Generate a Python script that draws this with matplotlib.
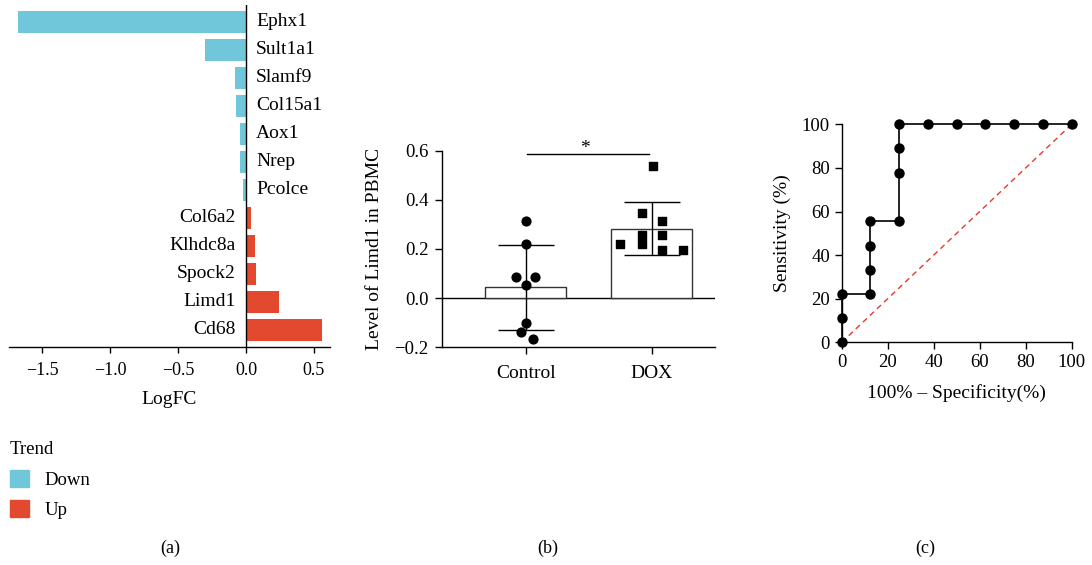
import matplotlib.pyplot as plt
from matplotlib.patches import Patch
import numpy as np

plt.rcParams['font.family'] = ['Liberation Serif', 'DejaVu Serif']
plt.rcParams['axes.linewidth'] = 1.0

# panel (a) data
genes = ["Ephx1", "Sult1a1", "Slamf9", "Col15a1", "Aox1", "Nrep", "Pcolce",
         "Col6a2", "Klhdc8a", "Spock2", "Limd1", "Cd68"]
logfc = [-1.676, -0.304, -0.081, -0.074, -0.044, -0.044, -0.02,
         0.034, 0.066, 0.074, 0.24, 0.559]
down_col = "#70C7DA"
up_col = "#E2492F"

# panel (b) data
groups = ["Control", "DOX"]
ctrl_vals = [0.315, 0.220, 0.086, 0.086, 0.055, -0.102, -0.138, -0.168]
ctrl_jit = [0.0, 0.0, -0.077, 0.076, 0.0, 0.0, -0.035, 0.058]
dox_vals = [0.539, 0.346, 0.315, 0.258, 0.258, 0.220, 0.220, 0.197, 0.197]
dox_jit = [0.008, -0.079, 0.082, -0.079, 0.082, -0.25, -0.079, 0.082, 0.25]

# panel (c) data
fpr = [0, 0, 0, 12.5, 12.5, 12.5, 12.5, 25, 25, 25, 25, 37.5, 50, 62.5, 75, 87.5, 100]
tpr = [0, 11.1, 22.2, 22.2, 33.3, 44.4, 55.6, 55.6, 77.8, 88.9, 100, 100, 100, 100, 100, 100, 100]

W, H = 1092, 565
fig = plt.figure(figsize=(W / 100, H / 100), dpi=100)

def box(l, t, r, b):
    return [l / W, 1 - b / H, (r - l) / W, (b - t) / H]

# ---- (a) bar chart of logFC
ax1 = fig.add_axes(box(9, 5, 330, 346.7))
ypos = np.arange(len(genes))
cols = [down_col if v < 0 else up_col for v in logfc]
ax1.barh(ypos, logfc, height=0.8, color=cols)
ax1.set_ylim(len(genes) - 0.4, -0.6)
ax1.set_xlim(-1.743, 0.618)
ax1.axvline(0, color="black", lw=1.0)
for y, g, v in zip(ypos, genes, logfc):
    if v < 0:
        ax1.text(0.075, y, g, ha="left", va="center", fontsize=14)
    else:
        ax1.text(-0.075, y, g, ha="right", va="center", fontsize=14)
for s in ["left", "right", "top"]:
    ax1.spines[s].set_visible(False)
ax1.set_yticks([])
ax1.set_xticks([-1.5, -1.0, -0.5, 0.0, 0.5])
ax1.set_xticklabels(["\u22121.5", "\u22121.0", "\u22120.5", "0.0", "0.5"])
ax1.tick_params(axis="x", labelsize=13, length=4, width=1.0, pad=7)
ax1.set_xlabel("LogFC", fontsize=14, labelpad=9)

handles = [Patch(color=down_col, label="Down"), Patch(color=up_col, label="Up")]
leg = fig.legend(handles=handles, title="Trend", loc="upper left",
                 bbox_to_anchor=(2 / W, 1 - 434 / H), frameon=False,
                 fontsize=13.5, title_fontsize=13.5, handlelength=1.05,
                 handleheight=1.05, labelspacing=0.6, handletextpad=0.8,
                 alignment="left", borderaxespad=0)

# ---- (b) bar + scatter
ax2 = fig.add_axes(box(442.3, 150.7, 715, 347.3))
xs = np.arange(len(groups))
means = [np.mean(ctrl_vals), np.mean(dox_vals)]
sds = [np.std(ctrl_vals, ddof=1), np.std(dox_vals, ddof=1)]
ax2.bar(xs, means, width=0.645, color="white", edgecolor="#333333", lw=1.0, zorder=2)
ax2.errorbar(xs, means, yerr=sds, fmt="none", ecolor="black", elinewidth=1.0,
             capsize=20, capthick=1.0, zorder=3)
ax2.scatter(np.array(ctrl_jit) + xs[0], ctrl_vals, marker="o", s=40, color="black", zorder=4, clip_on=False)
ax2.scatter(np.array(dox_jit) + xs[1], dox_vals, marker="s", s=40, color="black", zorder=4, clip_on=False)
ax2.axhline(0, color="black", lw=1.0, zorder=1)
ax2.set_xlim(-0.662, 1.502)
ax2.set_ylim(-0.2, 0.6)
ax2.set_yticks([-0.2, 0.0, 0.2, 0.4, 0.6])
ax2.set_yticklabels(["\u22120.2", "0.0", "0.2", "0.4", "0.6"])
ax2.set_xticks(xs)
ax2.set_xticklabels(groups)
ax2.tick_params(axis="y", labelsize=13.5, length=5, width=1.0, pad=5)
ax2.tick_params(axis="x", labelsize=14, length=5, width=1.0, pad=8)
for s in ["right", "top"]:
    ax2.spines[s].set_visible(False)
ax2.set_ylabel("Level of Limd1 in PBMC", fontsize=14, labelpad=8)
ax2.plot([0.01, 0.98], [0.588, 0.588], color="black", lw=1.0, clip_on=False)
ax2.text(0.47, 0.61, "*", ha="center", va="center", fontsize=14)

# ---- (c) ROC curve
ax3 = fig.add_axes(box(841.7, 124.3, 1071.7, 342.3))
ax3.plot([0, 100], [0, 100], color="#E8392B", lw=1.0, ls=(0, (4, 3)))
ax3.plot(fpr, tpr, color="black", lw=1.2, marker="o", ms=6.5, clip_on=False, zorder=3)
ax3.set_xlim(0, 100)
ax3.set_ylim(0, 100)
ax3.set_xticks(np.arange(0, 101, 20))
ax3.set_yticks(np.arange(0, 101, 20))
ax3.tick_params(labelsize=13.5, length=5, width=1.0)
for s in ["right", "top"]:
    ax3.spines[s].set_visible(False)
ax3.set_xlabel("100% \u2013 Specificity(%)", fontsize=14, labelpad=9)
ax3.set_ylabel("Sensitivity (%)", fontsize=14, labelpad=8)

# panel labels
for x, lab in [(170, "(a)"), (548, "(b)"), (925, "(c)")]:
    fig.text(x / W, 1 - 548 / H, lab, ha="center", va="center", fontsize=13)

fig.savefig("out.png", dpi=100)
